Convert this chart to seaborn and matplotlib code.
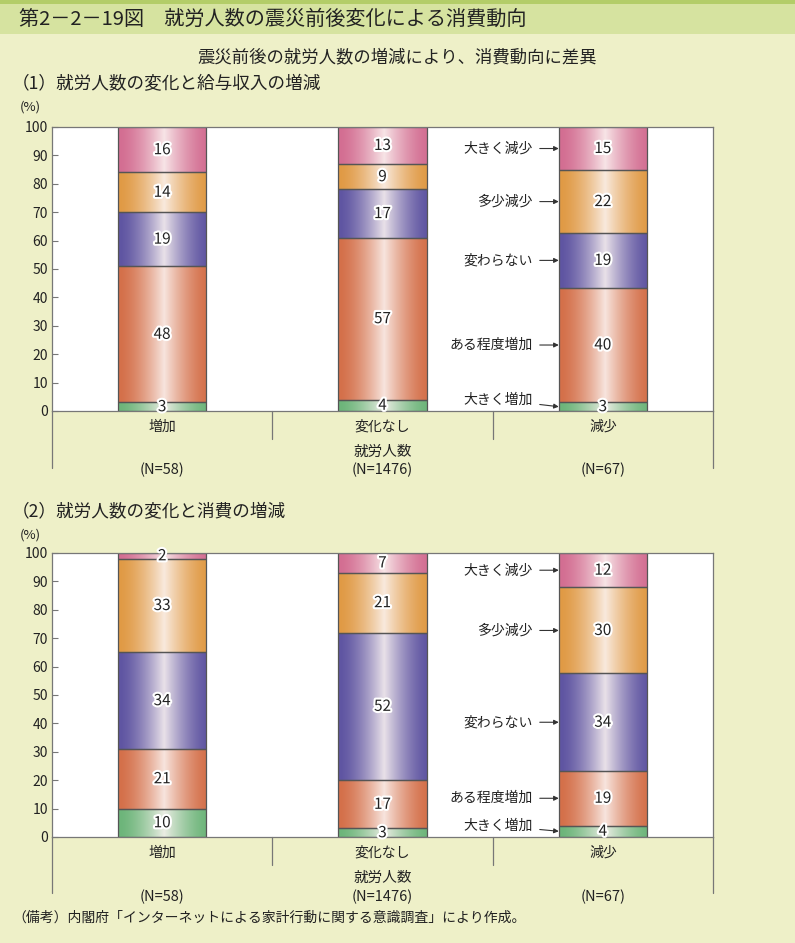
import numpy as np
import pandas as pd
import matplotlib
matplotlib.use("Agg")
import matplotlib.pyplot as plt
import seaborn as sns
from matplotlib import patheffects as pe
from matplotlib.colors import to_rgb
from matplotlib.patches import Rectangle

sns.set_theme(style="white")
plt.rcParams['font.family'] = ['Noto Sans CJK JP', 'DejaVu Sans']

# ---------------- data ----------------
groups = ['増加', '変化なし', '減少']
group_n = ['(N=58)', '(N=1476)', '(N=67)']
levels = ['大きく増加', 'ある程度増加', '変わらない', '多少減少', '大きく減少']
level_colors = ['#6DB57A', '#D4704A', '#5F55A2', '#E09A45', '#D36E92']

income_big_up = [3, 4, 3]
income_some_up = [48, 57, 40]
income_same = [19, 17, 19]
income_some_down = [14, 9, 22]
income_big_down = [16, 13, 15]

spend_big_up = [10, 3, 4]
spend_some_up = [21, 17, 19]
spend_same = [34, 52, 34]
spend_some_down = [33, 21, 30]
spend_big_down = [2, 7, 12]

title = '第2－2－19図　就労人数の震災前後変化による消費動向'
subtitle = '震災前後の就労人数の増減により、消費動向に差異'
panel1_title = '（1）就労人数の変化と給与収入の増減'
panel2_title = '（2）就労人数の変化と消費の増減'
xgroup_label = '就労人数'
note = '（備考）内閣府「インターネットによる家計行動に関する意識調査」により作成。'

BG = '#EEF0C8'
W, H = 795, 943


def grad(color, n=160):
    c = np.array(to_rgb(color))
    x = np.linspace(0, 1, n)
    t = np.clip(1 - np.abs(x - 0.52) / 0.5, 0, 1) ** 1.5
    m = 0.88 * t
    light = np.array([0.99, 0.96, 0.95])
    rgb = c[None, :] * (1 - m[:, None]) + light[None, :] * m[:, None]
    return rgb[None, :, :]


def draw_panel(ax, series, ext_sep, ext_outer, y_grp, y_n):
    vals = np.array(series, dtype=float)
    totals = vals.sum(axis=0)
    heights = vals / totals * 100
    bottoms = np.vstack([np.zeros(vals.shape[1]), np.cumsum(heights, axis=0)[:-1]])
    for i, lev in enumerate(levels):
        df = pd.DataFrame({'group': groups, 'h': heights[i]})
        n0 = len(ax.patches)
        sns.barplot(data=df, x='group', y='h', order=groups, color=level_colors[i],
                    width=0.4, saturation=1, errorbar=None, ax=ax)
        new = ax.patches[n0:]
        for j, p in enumerate(new):
            b = bottoms[i, j]
            h = heights[i, j]
            p.set_y(b)
            x0 = p.get_x()
            w = p.get_width()
            ax.imshow(grad(level_colors[i]), extent=[x0, x0 + w, b, b + h],
                      aspect='auto', zorder=1.5, interpolation='bilinear')
            p.set_facecolor('none')
            p.set_edgecolor('#555555')
            p.set_linewidth(0.9)
            p.set_zorder(2)
            ax.text(x0 + w / 2, b + h / 2, f'{int(vals[i, j])}', ha='center', va='center',
                    fontsize=11, color='#222222', zorder=4,
                    path_effects=[pe.withStroke(linewidth=3, foreground='white')])
        # side labels for the last bar
        j = len(groups) - 1
        yc = bottoms[i, j] + heights[i, j] / 2
        ty = max(yc, 4.0)
        xe = new[j].get_x()
        ax.annotate(lev, xy=(xe, yc), xytext=(xe - 0.12, ty), ha='right', va='center',
                    fontsize=10, color='#222222', zorder=4,
                    arrowprops=dict(arrowstyle='-|>', lw=0.8, color='#333333',
                                    shrinkA=3, shrinkB=0, mutation_scale=7))
    ax.set_xlim(-0.5, len(groups) - 0.5)
    ax.set_ylim(0, 100)
    ax.set_xlabel('')
    ax.set_ylabel('')
    ax.set_facecolor('white')
    ax.set_yticks(range(0, 101, 10))
    ax.tick_params(axis='y', direction='in', length=4, width=0.8, color='#777777',
                   labelsize=10, pad=3, labelcolor='#222222', left=True)
    ax.set_xticks(range(len(groups)))
    ax.set_xticklabels(groups)
    ax.tick_params(axis='x', length=0, labelsize=10, pad=6, labelcolor='#222222')
    for s in ax.spines.values():
        s.set_color('#777777')
        s.set_linewidth(0.9)
        s.set_visible(True)
    tr = ax.get_xaxis_transform()
    for xs in [k + 0.5 for k in range(len(groups) - 1)]:
        ax.plot([xs, xs], [0, -ext_sep], transform=tr, clip_on=False, color='#777777', lw=0.9)
    for xs in [-0.5, len(groups) - 0.5]:
        ax.plot([xs, xs], [0, -ext_outer], transform=tr, clip_on=False, color='#777777', lw=0.9)
    ax.text((len(groups) - 1) / 2, -y_grp, xgroup_label, transform=tr, ha='center',
            va='center', fontsize=10.5, color='#222222')
    for k, nlab in enumerate(group_n):
        ax.text(k, -y_n, nlab, transform=tr, ha='center', va='center',
                fontsize=10.5, color='#222222')


fig = plt.figure(figsize=(W / 100, H / 100), dpi=100, facecolor=BG)

# header band
fig.patches.append(Rectangle((0, 1 - 34 / H), 1, 34 / H, transform=fig.transFigure,
                             facecolor='#D6E3A0', edgecolor='none', zorder=0))
fig.patches.append(Rectangle((0, 1 - 4 / H), 1, 4 / H, transform=fig.transFigure,
                             facecolor='#B3CD68', edgecolor='none', zorder=0))

fig.text(19 / W, 1 - 19 / H, title, fontsize=14.5, color='#222222', va='center', ha='left')
fig.text(397 / W, 1 - 57 / H, subtitle, fontsize=12.5, color='#222222', va='center', ha='center')
fig.text(12 / W, 1 - 84 / H, panel1_title, fontsize=12.7, color='#222222', va='center', ha='left')
fig.text(20 / W, 1 - 107 / H, '(%)', fontsize=9.5, color='#222222', va='center', ha='left')
fig.text(12 / W, 1 - 512 / H, panel2_title, fontsize=12.7, color='#222222', va='center', ha='left')
fig.text(20 / W, 1 - 535 / H, '(%)', fontsize=9.5, color='#222222', va='center', ha='left')
fig.text(12 / W, 1 - 918 / H, note, fontsize=10, color='#222222', va='center', ha='left')

ax_l, ax_w = 52 / W, 661 / W
ax1 = fig.add_axes([ax_l, 1 - 411 / H, ax_w, 284 / H])
ax2 = fig.add_axes([ax_l, 1 - 837 / H, ax_w, 284 / H])

draw_panel(ax1, [income_big_up, income_some_up, income_same, income_some_down, income_big_down],
           ext_sep=28 / 284, ext_outer=57 / 284, y_grp=41 / 284, y_n=59 / 284)
draw_panel(ax2, [spend_big_up, spend_some_up, spend_same, spend_some_down, spend_big_down],
           ext_sep=28 / 284, ext_outer=56 / 284, y_grp=41 / 284, y_n=60 / 284)

fig.savefig('out.png', dpi=100, facecolor=BG)
